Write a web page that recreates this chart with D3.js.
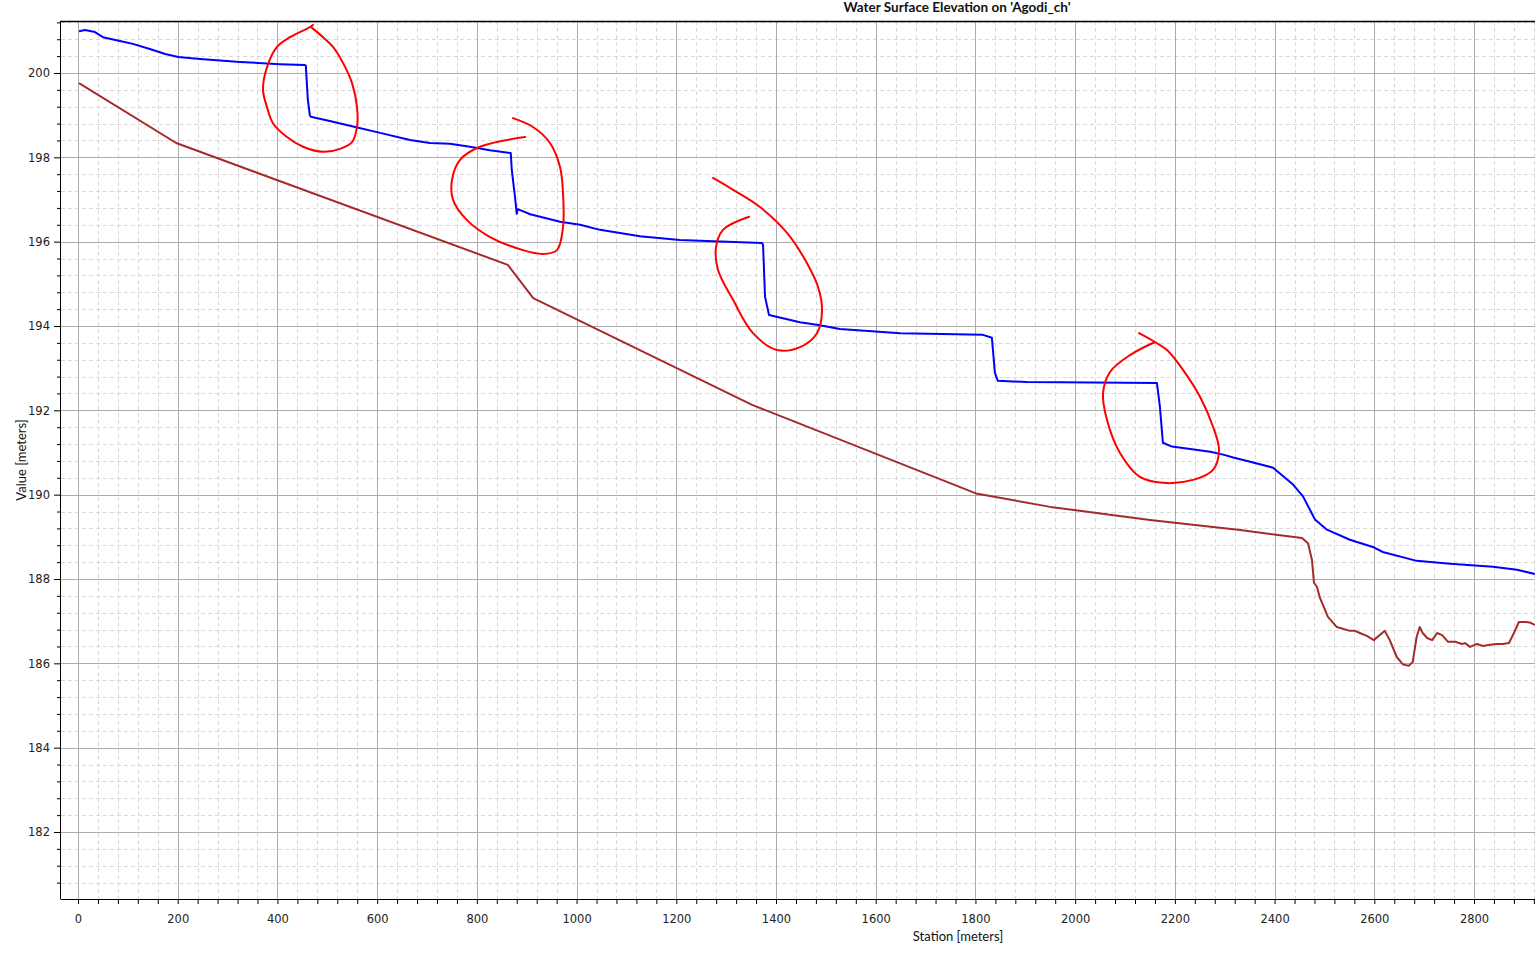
<!DOCTYPE html>
<html>
<head>
<meta charset="utf-8">
<script src="https://cdn.jsdelivr.net/npm/d3@7"></script>
<style>
  html, body { margin: 0; padding: 0; background: #fff; }
  svg { display: block; }
</style>
</head>
<body>
<svg id="chart" width="1535" height="957"></svg>
<script>
// ---- Data (station [m], elevation [m]) ----
const wsStation = [2, 14, 34, 50, 84, 110, 144, 175, 201, 245, 325, 405, 455, 457, 461, 465, 467, 505, 556, 606, 666, 706, 746, 786, 826, 868, 870, 876, 880, 882, 907, 967, 1007, 1047, 1127, 1207, 1248, 1372, 1374, 1378, 1386, 1448, 1488, 1528, 1649, 1815, 1833, 1839, 1845, 1903, 2164, 2170, 2176, 2194, 2271, 2297, 2317, 2351, 2397, 2437, 2457, 2481, 2505, 2551, 2597, 2617, 2685, 2752, 2838, 2886, 2922];
const wsElev = [200.99, 201.02, 200.97, 200.85, 200.76, 200.69, 200.57, 200.45, 200.38, 200.33, 200.26, 200.21, 200.19, 200.17, 199.36, 199.00, 198.96, 198.86, 198.72, 198.58, 198.41, 198.34, 198.32, 198.25, 198.17, 198.10, 197.70, 197.11, 196.66, 196.77, 196.65, 196.47, 196.40, 196.28, 196.13, 196.04, 196.02, 195.97, 195.92, 194.69, 194.26, 194.09, 194.02, 193.93, 193.83, 193.79, 193.72, 192.89, 192.70, 192.67, 192.65, 192.08, 191.23, 191.14, 191.02, 190.95, 190.88, 190.78, 190.64, 190.24, 189.96, 189.41, 189.17, 188.93, 188.76, 188.64, 188.43, 188.36, 188.29, 188.22, 188.12];

const bedStation = [2, 197, 862, 913, 1352, 1801, 1950, 2150, 2331, 2455, 2467, 2475, 2479, 2485, 2491, 2507, 2525, 2551, 2561, 2571, 2585, 2599, 2611, 2621, 2631, 2645, 2657, 2669, 2677, 2685, 2691, 2697, 2706, 2716, 2726, 2736, 2748, 2762, 2776, 2782, 2792, 2806, 2818, 2832, 2846, 2858, 2870, 2880, 2890, 2904, 2914, 2922];
const bedElev = [199.76, 198.34, 195.45, 194.66, 192.13, 190.03, 189.71, 189.40, 189.16, 188.97, 188.85, 188.45, 187.91, 187.81, 187.55, 187.10, 186.86, 186.77, 186.77, 186.72, 186.65, 186.55, 186.67, 186.77, 186.55, 186.15, 185.98, 185.94, 186.03, 186.63, 186.86, 186.72, 186.60, 186.55, 186.72, 186.67, 186.51, 186.51, 186.46, 186.48, 186.39, 186.46, 186.41, 186.44, 186.46, 186.46, 186.48, 186.72, 186.98, 186.98, 186.96, 186.91];

// Hand-drawn red annotation loops (data space: station, elevation)
const note1 = [[471.3,201.14],[465.3,201.09],[425.2,200.85],[399.1,200.62],[379.1,200.14],[371.1,199.60],[379.1,199.19],[391.1,198.81],[419.2,198.48],[451.3,198.25],[491.4,198.13],[525.5,198.20],[549.6,198.36],[559.6,198.72],[559.6,199.19],[549.6,199.76],[531.5,200.24],[511.5,200.62],[491.4,200.85],[469.3,201.07]];
const note2 = [[896.6,198.48],[806.3,198.25],[766.2,197.94],[750.1,197.46],[752.2,196.99],[780.2,196.51],[826.4,196.11],[892.6,195.80],[932.7,195.71],[960.7,195.80],[972.8,196.35],[972.8,197.15],[966.8,197.77],[946.7,198.34],[912.6,198.72],[872.5,198.93]];
const note3 = [[1345.9,196.59],[1293.7,196.28],[1279.7,195.87],[1283.7,195.33],[1313.8,194.62],[1353.9,193.83],[1402.0,193.43],[1448.1,193.50],[1482.2,193.83],[1492.3,194.38],[1484.2,194.93],[1462.2,195.49],[1422.1,196.21],[1367.9,196.82],[1313.8,197.23],[1273.6,197.51]];
const note4 = [[2128.1,193.83],[2160.2,193.62],[2184.3,193.43],[2216.3,192.96],[2250.4,192.32],[2276.5,191.61],[2288.5,191.06],[2276.5,190.59],[2236.4,190.35],[2176.2,190.28],[2130.1,190.42],[2089.9,190.99],[2063.9,191.77],[2055.9,192.41],[2069.9,192.91],[2110.0,193.31],[2160.2,193.62]];

// Tick values
const xMajorTicks = [0, 200, 400, 600, 800, 1000, 1200, 1400, 1600, 1800, 2000, 2200, 2400, 2600, 2800];
const yMajorTicks = [182, 184, 186, 188, 190, 192, 194, 196, 198, 200];
const xMinorStep = 40;
const yMinorStep = 0.4;

const titleText = "Water Surface Elevation on 'Agodi_ch'";
const xTitle = "Station [meters]";
const yTitle = "Value [meters]";

// ---- Layout ----
const W = 1535, H = 957;
const plot = { left: 61, top: 21, right: 1535, bottom: 899 };

const x = d3.scaleLinear().domain([-34.1, 2922.3]).range([plot.left, plot.right]);
const y = d3.scaleLinear().domain([180.411, 201.233]).range([plot.bottom, plot.top]);

const xMinor = d3.range(0, Math.floor(x.domain()[1] / xMinorStep) + 1).map(i => i * xMinorStep);
const yMinor = d3.range(Math.ceil(y.domain()[0] / yMinorStep), Math.floor(y.domain()[1] / yMinorStep) + 1)
  .map(i => +(i * yMinorStep).toFixed(1));
const isMajorX = d => xMajorTicks.includes(d);
const isMajorY = d => yMajorTicks.some(v => Math.abs(v - d) < 1e-6);

const svg = d3.select("#chart");
const tickFont = "'DejaVu Sans', sans-serif";
const labelFont = "Lato, 'Open Sans', sans-serif";

// clip
svg.append("defs").append("clipPath").attr("id", "clip")
  .append("rect").attr("x", plot.left).attr("y", plot.top)
  .attr("width", plot.right - plot.left).attr("height", plot.bottom - plot.top);

// ---- Grid ----
const grid = svg.append("g");
grid.selectAll("line.vminor").data(xMinor.filter(d => !isMajorX(d))).join("line")
  .attr("x1", d => Math.round(x(d)) + 0.5).attr("x2", d => Math.round(x(d)) + 0.5)
  .attr("y1", plot.top).attr("y2", plot.bottom)
  .attr("stroke", "#d9d9d9").attr("stroke-dasharray", "4,3");
grid.selectAll("line.hminor").data(yMinor.filter(d => !isMajorY(d))).join("line")
  .attr("y1", d => Math.round(y(d)) + 0.5).attr("y2", d => Math.round(y(d)) + 0.5)
  .attr("x1", plot.left).attr("x2", plot.right)
  .attr("stroke", "#d9d9d9").attr("stroke-dasharray", "4,3");
grid.selectAll("line.vmajor").data(xMajorTicks).join("line")
  .attr("x1", d => Math.round(x(d)) + 0.5).attr("x2", d => Math.round(x(d)) + 0.5)
  .attr("y1", plot.top).attr("y2", plot.bottom)
  .attr("stroke", "#ababab");
grid.selectAll("line.hmajor").data(yMajorTicks).join("line")
  .attr("y1", d => Math.round(y(d)) + 0.5).attr("y2", d => Math.round(y(d)) + 0.5)
  .attr("x1", plot.left).attr("x2", plot.right)
  .attr("stroke", "#ababab");

// ---- Series ----
const lineGen = d3.line().x(d => x(d[0])).y(d => y(d[1]));
const series = svg.append("g").attr("clip-path", "url(#clip)");

const bed = bedStation.map((s, i) => [s, bedElev[i]]);
const ws = wsStation.map((s, i) => [s, wsElev[i]]);

series.append("path").datum(bed).attr("d", lineGen)
  .attr("fill", "none").attr("stroke", "#a52a2a").attr("stroke-width", 2).attr("stroke-linejoin", "round");
series.append("path").datum(ws).attr("d", lineGen)
  .attr("fill", "none").attr("stroke", "#0000ff").attr("stroke-width", 2).attr("stroke-linejoin", "round");

// annotations
const noteGen = d3.line().x(d => x(d[0])).y(d => y(d[1])).curve(d3.curveCatmullRom.alpha(0.5));
svg.append("g").selectAll("path").data([note1, note2, note3, note4]).join("path")
  .attr("d", noteGen).attr("fill", "none").attr("stroke", "#ff0000")
  .attr("stroke-width", 2).attr("stroke-linecap", "round");

// ---- Axes ----
const xAxis = d3.axisBottom(x).tickValues(xMinor)
  .tickFormat(d => isMajorX(d) ? d : "").tickSize(5).tickPadding(11);
const gx = svg.append("g").attr("transform", `translate(0,${plot.bottom})`).call(xAxis);
gx.select(".domain").attr("d", `M${plot.left},0.5H${plot.right}`).attr("stroke", "#000");
gx.selectAll(".tick line").attr("stroke", "#000");
gx.selectAll(".tick text").attr("font-family", tickFont).attr("font-size", 11.5).attr("fill", "#222");

const yAxisMinor = d3.axisLeft(y).tickValues(yMinor.filter(d => !isMajorY(d))).tickFormat("").tickSize(4);
const gyMinor = svg.append("g").attr("transform", `translate(${plot.left},0)`).call(yAxisMinor);
gyMinor.select(".domain").remove();
gyMinor.selectAll(".tick line").attr("stroke", "#000");

const yAxis = d3.axisLeft(y).tickValues(yMajorTicks).tickFormat(d3.format("d")).tickSize(7).tickPadding(4);
const gy = svg.append("g").attr("transform", `translate(${plot.left},0)`).call(yAxis);
gy.select(".domain").attr("d", `M-0.5,${plot.top}V${plot.bottom + 0.5}`).attr("stroke", "#000");
gy.selectAll(".tick line").attr("stroke", "#000");
gy.selectAll(".tick text").attr("font-family", tickFont).attr("font-size", 11.5).attr("fill", "#222");

// top border
svg.append("line").attr("x1", plot.left - 1).attr("x2", plot.right)
  .attr("y1", plot.top + 0.5).attr("y2", plot.top + 0.5).attr("stroke", "#000").attr("stroke-width", 1.5);

// ---- Titles ----
svg.append("text").attr("x", 957).attr("y", 12)
  .attr("text-anchor", "middle").attr("font-family", labelFont).attr("font-weight", "bold")
  .attr("font-size", 13.5).attr("fill", "#111").text(titleText);

svg.append("text").attr("x", 958).attr("y", 941)
  .attr("text-anchor", "middle").attr("font-family", labelFont)
  .attr("font-size", 13).attr("fill", "#111").text(xTitle);

svg.append("text").attr("transform", "translate(26,460) rotate(-90)")
  .attr("text-anchor", "middle").attr("font-family", labelFont)
  .attr("font-size", 13).attr("fill", "#111").text(yTitle);
</script>
</body>
</html>
